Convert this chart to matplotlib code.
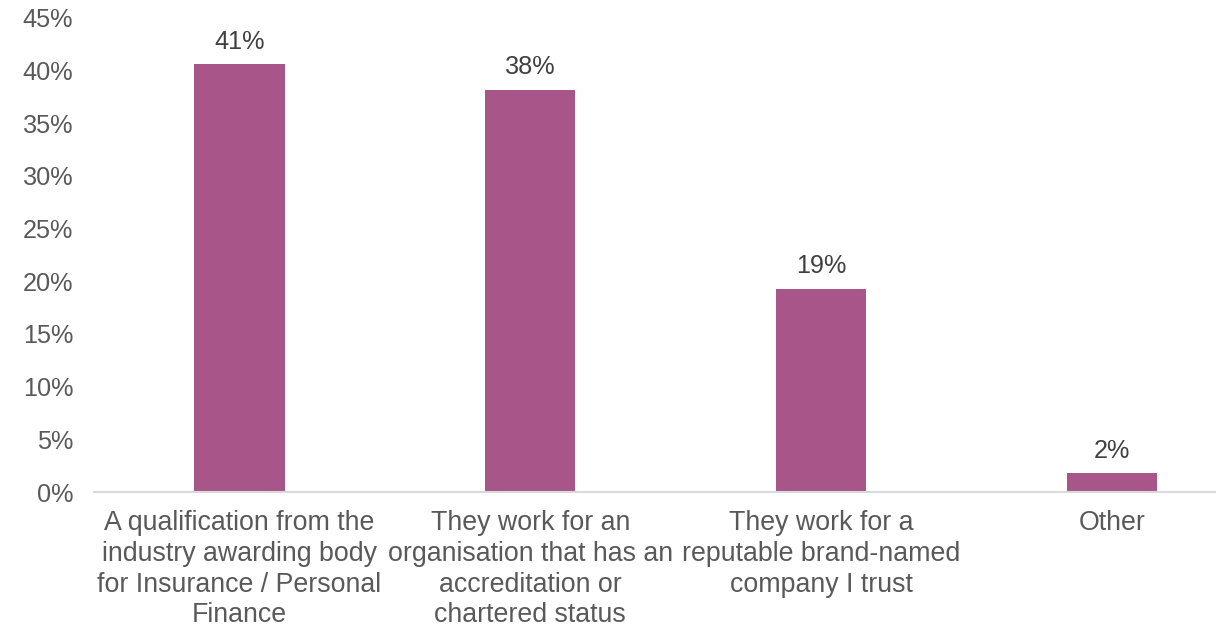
import matplotlib.pyplot as plt
import numpy as np

plt.rcParams['font.family'] = ['Liberation Sans', 'DejaVu Sans']

categories = [
    "A qualification from the\nindustry awarding body\nfor Insurance / Personal\nFinance",
    "They work for an\norganisation that has an\naccreditation or\nchartered status",
    "They work for a\nreputable brand-named\ncompany I trust",
    "Other",
]
shares = [40.6, 38.2, 19.3, 1.8]
y_ticks = [0, 5, 10, 15, 20, 25, 30, 35, 40, 45]

bar_color = '#A8568A'

fig = plt.figure(figsize=(12.16, 6.28), dpi=100)
ax = fig.add_axes([94 / 1216, (628 - 492) / 628, 1 - 94 / 1216, (492 - 18) / 628])

x = np.arange(len(categories))
bars = ax.bar(x, shares, width=0.31, color=bar_color)

for rect, v in zip(bars, shares):
    ax.text(rect.get_x() + rect.get_width() / 2, v + 1.0, f'{v:.0f}%',
            ha='center', va='bottom', fontsize=18.2, color='#404040')

ax.set_xlim(-0.5, 3.357)
ax.set_ylim(0, 45)
ax.set_yticks(y_ticks)
ax.set_yticklabels([f'{t}%' for t in y_ticks])
ax.set_xticks(x)
ax.set_xticklabels(categories, linespacing=1.24)

ax.tick_params(axis='y', length=0, pad=15, labelsize=18.2, labelcolor='#595959')
ax.tick_params(axis='x', length=0, pad=13, labelsize=19.3, labelcolor='#595959')

for side in ['top', 'right', 'left']:
    ax.spines[side].set_visible(False)
ax.spines['bottom'].set_color('#D9D9D9')
ax.spines['bottom'].set_linewidth(1.5)

fig.savefig('out.png', dpi=100)
